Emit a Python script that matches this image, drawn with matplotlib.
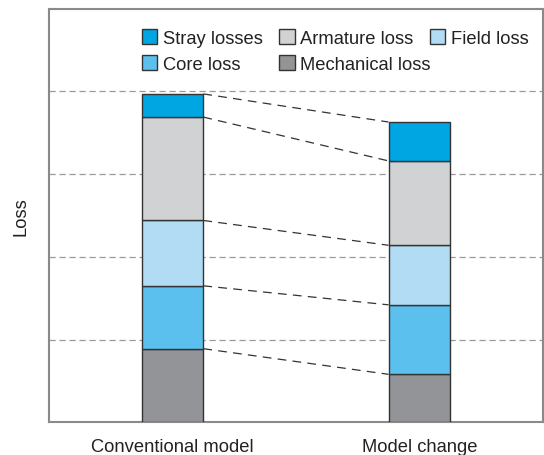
import matplotlib
matplotlib.use("Agg")
import matplotlib.pyplot as plt
import numpy as np

plt.rcParams['font.family'] = ['Liberation Sans', 'DejaVu Sans']

categories = ["Conventional model", "Model change"]
components = ["Mechanical loss", "Core loss", "Field loss", "Armature loss", "Stray losses"]
mechanical = [0.89, 0.58]
core = [0.76, 0.84]
field = [0.79, 0.72]
armature = [1.25, 1.02]
stray = [0.28, 0.47]
colors = ["#929497", "#5bc0ee", "#b2dcf4", "#d1d2d4", "#00a6e2"]

series = [mechanical, core, field, armature, stray]
FS = 13.2

fig = plt.figure(figsize=(5.44, 4.56), dpi=100)
ax = fig.add_axes([0.090, 0.0717, 0.908, 0.907])

x = np.arange(len(categories))
width = 0.25
bottom = np.zeros(len(categories))
handles = {}
tops = []
for name, vals, c in zip(components, series, colors):
    b = ax.bar(x, vals, width, bottom=bottom, color=c, edgecolor="#333333", linewidth=1.0, zorder=3, label=name)
    handles[name] = b
    bottom = bottom + np.array(vals)
    tops.append(bottom.copy())

# connector dashed lines between cumulative tops
for t in tops:
    ax.plot([x[0] + width / 2, x[1] - width / 2], [t[0], t[1]], color="#333333", lw=0.9,
            linestyle=(0, (7, 5)), zorder=2)

ax.set_xlim(-0.5, 1.5)
ax.set_ylim(0, 5)
ax.set_yticks([1, 2, 3, 4])
ax.yaxis.grid(True, linestyle=(0, (5, 3)), color="#9a9a9a", linewidth=0.9, zorder=0)
ax.set_yticklabels([])
ax.tick_params(axis='y', length=0)
ax.set_xticks(x)
ax.set_xticklabels(categories, fontsize=FS, color="#222222")
ax.tick_params(axis='x', length=0, pad=11)
ax.set_ylabel("Loss", fontsize=FS, color="#222222")
ax.yaxis.set_label_coords(-0.04, 0.5)
for s in ax.spines.values():
    s.set_color("#8a8a8a")
    s.set_linewidth(1.5)

# legend laid out in rows: three column groups
legend_cols = [["Stray losses", "Core loss"], ["Armature loss", "Mechanical loss"], ["Field loss"]]
col_x = [0.188, 0.466, 0.771]
for i, (names, cx) in enumerate(zip(legend_cols, col_x)):
    leg = ax.legend([handles[n] for n in names], names, loc="upper left",
                    bbox_to_anchor=(cx, 0.95), frameon=False, fontsize=FS,
                    borderpad=0, borderaxespad=0,
                    handlelength=0.85, handleheight=0.85, handletextpad=0.3,
                    labelspacing=0.45)
    for t in leg.get_texts():
        t.set_color("#222222")
    if i < len(legend_cols) - 1:
        ax.add_artist(leg)

fig.savefig("out.png", dpi=100)
